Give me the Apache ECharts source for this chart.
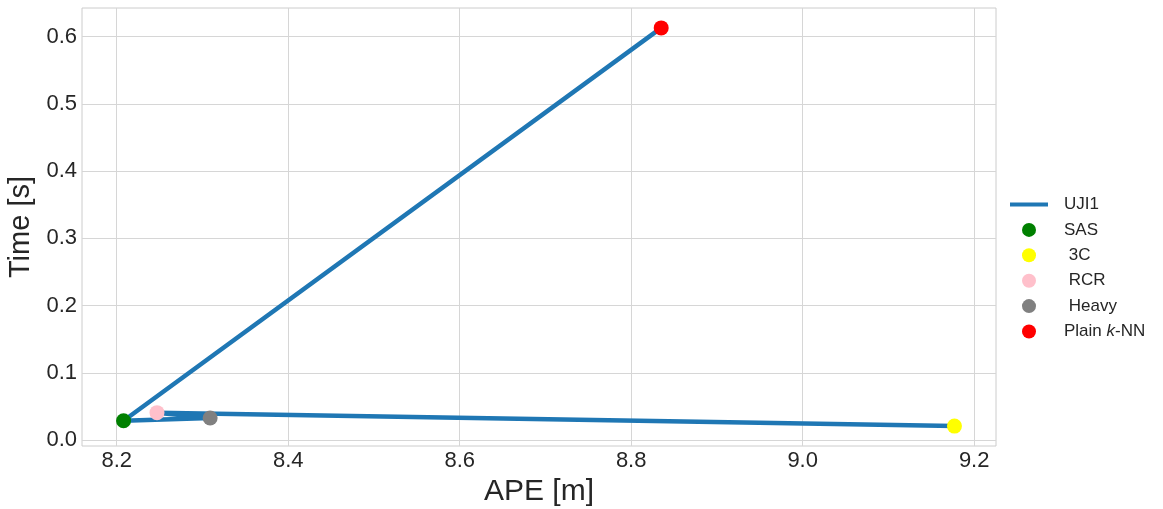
<!DOCTYPE html>
<html>
<head>
<meta charset="utf-8">
<script src="https://cdn.jsdelivr.net/npm/echarts@6/dist/echarts.min.js"></script>
<style>
  html, body { margin: 0; padding: 0; background: #fff; }
  #chart { width: 1163px; height: 509px; }
</style>
</head>
<body>
<div id="chart"></div>
<script>
// Methods compared on UJI1: positioning error (APE, m) vs. runtime (s)
const methods = ['Plain k-NN', 'SAS', 'Heavy', 'RCR', '3C'];
const apeValues = [8.835, 8.208, 8.309, 8.247, 9.177];
const timeValues = [0.613, 0.029, 0.033, 0.041, 0.021];
const methodColors = {
  'SAS': '#008000',
  '3C': '#ffff00',
  'RCR': '#ffc0cb',
  'Heavy': '#808080',
  'Plain k-NN': '#ff0000'
};
const legendOrder = ['SAS', '3C', 'RCR', 'Heavy', 'Plain k-NN'];
const legendLabels = {
  'UJI1': 'UJI1',
  'SAS': 'SAS',
  '3C': ' 3C',
  'RCR': ' RCR',
  'Heavy': ' Heavy',
  'Plain k-NN': 'Plain {i|k}-NN'
};
const xTicks = [8.2, 8.4, 8.6, 8.8, 9.0, 9.2];
const yTicks = [0.0, 0.1, 0.2, 0.3, 0.4, 0.5, 0.6];

const font = 'Liberation Sans, Arial, sans-serif';

// 5% padding around the data range on both axes
function padded(vals) {
  const lo = Math.min(...vals), hi = Math.max(...vals);
  const r = hi - lo;
  return [lo - 0.05 * r, hi + 0.05 * r];
}
const [xMin, xMax] = padded(apeValues);
const [yMin, yMax] = padded(timeValues);

const lineData = methods.map((m, i) => [apeValues[i], timeValues[i]]);

const scatterSeries = legendOrder.map(name => {
  const i = methods.indexOf(name);
  return {
    name: name,
    type: 'scatter',
    data: [[apeValues[i], timeValues[i]]],
    symbol: 'circle',
    symbolSize: 15,
    itemStyle: { color: methodColors[name], opacity: 1 },
    z: 3
  };
});

const chart = echarts.init(document.getElementById('chart'), null, { renderer: 'canvas' });

chart.setOption({
  backgroundColor: '#ffffff',
  animation: false,
  textStyle: { fontFamily: font },
  grid: {
    left: 82, right: 167, top: 8, bottom: 63,
    outerBoundsMode: 'none',
    containLabel: false,
    show: true,
    borderColor: '#cccccc',
    borderWidth: 1,
    backgroundColor: '#ffffff'
  },
  xAxis: {
    type: 'value',
    min: xMin,
    max: xMax,
    name: 'APE [m]',
    nameLocation: 'middle',
    nameGap: 29,
    nameTextStyle: { fontSize: 30, color: '#262626', fontFamily: font },
    axisLine: { show: false },
    axisTick: { show: false, customValues: xTicks },
    axisLabel: {
      customValues: xTicks,
      fontSize: 22,
      color: '#262626',
      margin: 4,
      formatter: v => v.toFixed(1)
    },
    splitLine: { show: true, lineStyle: { color: '#d6d6d6', width: 1 } }
  },
  yAxis: {
    type: 'value',
    min: yMin,
    max: yMax,
    name: 'Time [s]',
    nameLocation: 'middle',
    nameGap: 45,
    nameTextStyle: { fontSize: 29, color: '#262626', fontFamily: font },
    axisLine: { show: false },
    axisTick: { show: false, customValues: yTicks },
    axisLabel: {
      customValues: yTicks,
      fontSize: 22,
      color: '#262626',
      margin: 5,
      formatter: v => v.toFixed(1)
    },
    splitLine: { show: true, lineStyle: { color: '#d6d6d6', width: 1 } }
  },
  legend: {
    orient: 'vertical',
    left: 1010,
    top: 196,
    padding: 0,
    itemWidth: 38,
    itemHeight: 14,
    itemGap: 8.4,
    data: [{ name: 'UJI1', icon: 'path://M0,0 H38 V4 H0 Z' }].concat(legendOrder),
    formatter: name => legendLabels[name],
    textStyle: {
      fontSize: 17,
      color: '#262626',
      fontFamily: font,
      padding: [0, 0, 0, 11],
      rich: {
        i: { fontStyle: 'italic', fontSize: 17, color: '#262626', fontFamily: font }
      }
    }
  },
  series: [
    {
      name: 'UJI1',
      type: 'line',
      data: lineData,
      symbol: 'none',
      showSymbol: false,
      lineStyle: { color: '#1f77b4', width: 4.5, cap: 'round', join: 'round' },
      itemStyle: { color: '#1f77b4' },
      z: 2
    }
  ].concat(scatterSeries)
});
</script>
</body>
</html>
